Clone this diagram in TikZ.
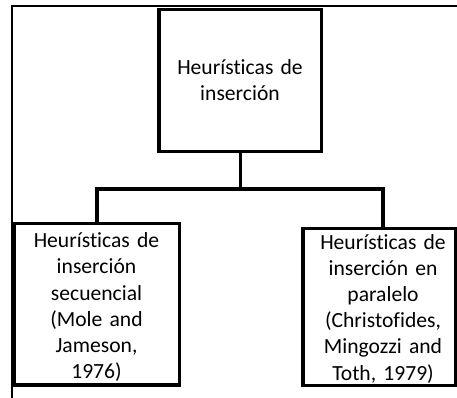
\documentclass[tikz,border=0pt]{standalone}
\usepackage{fontspec}
\setmainfont{Carlito}[Ligatures=NoCommon]
\usetikzlibrary{calc}
\tikzset{
  box/.style={draw=black, line width=3.2pt, rectangle, inner sep=0pt, outer sep=0pt},
  txt/.style={font=\fontsize{21.6}{26.2}\selectfont, text width=170pt, align=center, inner sep=0pt, anchor=base, text=black},
  conn/.style={draw=black, line width=3.2pt, line join=miter},
  frame/.style={draw=black, line width=1.8pt}
}
\begin{document}
\begin{tikzpicture}[x=1pt, y=-1pt]
  \useasboundingbox (0,0) rectangle (457,398);
  % partial outer frame
  \draw[frame] (12,398) -- (12,6) -- (457,6);
  % boxes
  \node[box, minimum width=162.5pt, minimum height=142pt] (T) at (240.25,80.5) {};
  \node[box, minimum width=165pt, minimum height=161.7pt] (L) at (97,304.2) {};
  \node[box, minimum width=152.5pt, minimum height=157.2pt] (R) at (379.25,306.9) {};
  % texts
  \node[txt] (Tt) at (240,74.3) {Heurísticas de\\inserción};
  \node[txt] (Lt) at (96.5,247.7) {Heurísticas de\\inserción\\secuencial\\(Mole and\\Jameson,\\1976)};
  \node[txt] (Rt) at (383,249) {Heurísticas de\\inserción en\\paralelo\\(Christofides,\\Mingozzi and\\Toth, 1979)};
  % connectors
  \coordinate (J) at (240.25,189);
  \coordinate (Rn) at ([xshift=3.75pt]R.north);
  \draw[conn] (T.south) -- (J);
  \draw[conn] (L.north) |- (J) -| (Rn);
\end{tikzpicture}
\end{document}
